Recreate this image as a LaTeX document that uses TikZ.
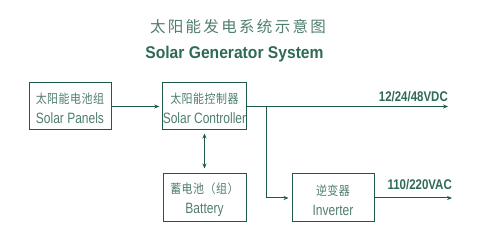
\documentclass[tikz,border=0pt]{standalone}
\usepackage{fontspec}
\usetikzlibrary{arrows.meta}
\newfontfamily\cjk{Noto Sans CJK SC}
\newfontfamily\cjkbox[FakeStretch=0.88,LetterSpace=4]{Noto Sans CJK SC}
\newfontfamily\boxsans[FakeStretch=0.8]{Liberation Sans}
\newfontfamily\titlesans[FakeStretch=0.92]{Liberation Sans}
\newfontfamily\lblsans[FakeStretch=0.82]{Liberation Sans}
\definecolor{linegreen}{HTML}{1E5A44}
\definecolor{textgreen}{HTML}{4F7E6C}
\definecolor{titlegreen}{HTML}{2F6A58}
\newcommand{\cjkline}[1]{{\cjkbox\fontsize{12.5}{14}\selectfont\rule{0pt}{15pt}#1}}
\tikzset{
  blk/.style={draw=linegreen, line width=1pt, minimum width=82pt, minimum height=47pt, inner sep=0pt, align=center, text=textgreen, font=\boxsans\fontsize{15}{20}\selectfont},
  conn/.style={draw=linegreen, line width=1pt},
  arr/.style={conn, -{Stealth[length=5pt,width=4pt]}},
  lbl/.style={text=titlegreen, font=\lblsans\bfseries\fontsize{14}{16}\selectfont, inner sep=0pt},
}
\begin{document}
\begin{tikzpicture}[x=1pt,y=-1pt]
\useasboundingbox (0,0) rectangle (480,240);
\node[text=textgreen, font=\cjk\addfontfeature{LetterSpace=15}\fontsize{15.5}{17}\selectfont, inner sep=0pt] (t1) at (238,26.5) {太阳能发电系统示意图};
\node[text=titlegreen, font=\titlesans\bfseries\fontsize{17}{19}\selectfont, inner sep=0pt] (t2) at (234.5,54) {Solar Generator System};

\node[blk] (pan) at (70,106.5) {\cjkline{太阳能电池组}\\Solar Panels};
\node[blk, minimum width=83pt] (ctl) at (204.5,106.5) {\cjkline{太阳能控制器}\\Solar Controller};
\node[blk, minimum width=83pt, minimum height=48pt] (bat) at (204.5,198) {\cjkline{蓄电池（组）}\\Battery};
\node[blk, minimum height=48pt] (inv) at (333,198) {\cjkline{逆变器}\\Inverter};

\coordinate (out1) at (448,106.5);
\coordinate (out2) at (452,198);
\coordinate (j) at (266,106.5);

\draw[arr, shorten >=3pt] (pan.east) -- (ctl.west);
\draw[conn, {Stealth[length=5pt,width=4pt]}-{Stealth[length=5pt,width=4pt]}, shorten <=3pt, shorten >=5pt] (ctl.south) -- (bat.north);
\draw[arr] (ctl.east) -- (out1);
\draw[arr, shorten >=3pt] (j) |- (inv.west);
\draw[arr] (inv.east) -- (out2);

\node[lbl, anchor=south east] (l1) at (448,101.5) {12/24/48VDC};
\node[lbl, anchor=south east] (l2) at (452,190) {110/220VAC};
\end{tikzpicture}
\end{document}
